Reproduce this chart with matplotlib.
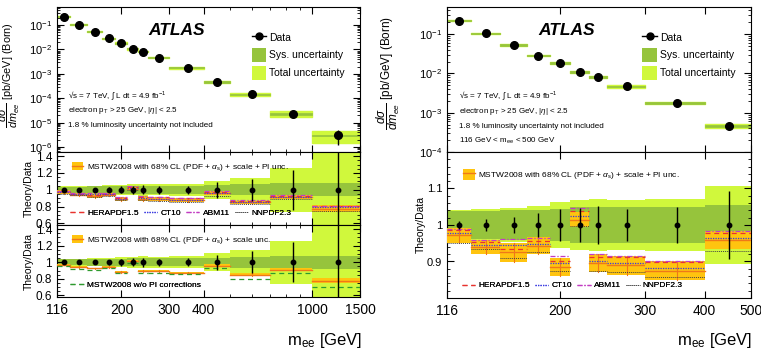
import numpy as np
import matplotlib
matplotlib.use("Agg")
import matplotlib.pyplot as plt
from matplotlib.patches import Patch
from matplotlib.lines import Line2D
from matplotlib.ticker import FixedLocator, NullFormatter, LogLocator, MultipleLocator, FixedFormatter

plt.rcParams['font.family'] = ['Liberation Sans', 'DejaVu Sans']
plt.rcParams['mathtext.fontset'] = 'custom'
plt.rcParams['mathtext.rm'] = 'Liberation Sans'
plt.rcParams['mathtext.it'] = 'Liberation Sans:italic'
plt.rcParams['mathtext.bf'] = 'Liberation Sans:bold'

# m_ee bin edges [GeV]
edges = [116, 130, 150, 170, 190, 210, 230, 250, 300, 400, 500, 700, 1000, 1500]
# measured cross section dsigma/dm [pb/GeV]
xsec = [0.221, 0.104, 0.0527, 0.0285, 0.0183, 0.0107, 0.00825, 0.00465, 0.00175,
        0.000465, 0.000145, 2.3e-5, 3.0e-6]
# relative uncertainties
stat = [0.012, 0.017, 0.021, 0.032, 0.044, 0.047, 0.052, 0.045, 0.05, 0.093, 0.13, 0.24, 0.62]
sys_unc = [0.038, 0.038, 0.04, 0.042, 0.045, 0.048, 0.048, 0.05, 0.05, 0.055, 0.065, 0.075, 0.08]
tot_unc = [0.041, 0.043, 0.046, 0.052, 0.062, 0.068, 0.072, 0.068, 0.072, 0.108, 0.145, 0.26, 0.5]

# theory / data
mstw = [0.972, 0.94, 0.925, 0.943, 0.885, 1.015, 0.895, 0.89, 0.875, 0.958, 0.85, 0.912, 0.775]
mstw_hw = [0.02, 0.02, 0.027, 0.023, 0.024, 0.02, 0.025, 0.026, 0.025, 0.025, 0.02, 0.027, 0.045]
mstw_scale_hw = [0.01, 0.01, 0.01, 0.01, 0.01, 0.012, 0.012, 0.012, 0.012, 0.015, 0.015, 0.02, 0.03]
mstw_nopi = [0.955, 0.92, 0.905, 0.925, 0.868, 0.99, 0.875, 0.87, 0.855, 0.935, 0.80, 0.875, 0.70]
herapdf = [0.985, 0.953, 0.935, 0.955, 0.902, 1.037, 0.913, 0.911, 0.899, 0.979, 0.87, 0.93, 0.805]
ct10 = [0.978, 0.945, 0.945, 0.948, 0.895, 1.025, 0.9, 0.895, 0.882, 0.965, 0.855, 0.915, 0.79]
abm11 = [0.99, 0.96, 0.962, 0.965, 0.914, 1.047, 0.92, 0.915, 0.901, 0.983, 0.875, 0.935, 0.81]
nnpdf = [0.952, 0.933, 0.909, 0.925, 0.874, 0.998, 0.875, 0.87, 0.857, 0.929, 0.83, 0.893, 0.748]

LIGHT = '#d0f83c'
DARK = '#96c43c'
ORANGE = '#ffc40f'
ORANGE_LINE = '#f07818'

pdf_styles = [
    (herapdf, 'HERAPDF1.5', dict(color='#e8332e', ls=(0, (4, 3)), lw=0.9)),
    (ct10, 'CT10', dict(color='#3a3ae0', ls=(0, (1, 1)), lw=0.9)),
    (abm11, 'ABM11', dict(color='#c23cc2', ls=(0, (4, 1.5, 1, 1.5)), lw=0.9)),
    (nnpdf, 'NNPDF2.3', dict(color='#444444', ls=(0, (1, 1)), lw=0.7)),
]


def style_ticks(ax):
    ax.tick_params(which='both', direction='in', top=True, right=True)
    ax.tick_params(which='major', length=5, width=0.8)
    ax.tick_params(which='minor', length=2.5, width=0.6)


def set_xaxis(ax, xmax, majors, labels, minors, show_labels):
    ax.set_xscale('log')
    ax.set_xlim(116, xmax)
    ax.xaxis.set_major_locator(FixedLocator(majors))
    ax.xaxis.set_minor_locator(FixedLocator(minors))
    ax.xaxis.set_minor_formatter(NullFormatter())
    if show_labels:
        ax.xaxis.set_major_formatter(FixedFormatter(labels))
        ax.tick_params(axis='x', labelsize=10, pad=4)
    else:
        ax.xaxis.set_major_formatter(NullFormatter())


def draw_main(ax, nb):
    for i in range(nb):
        lo, hi, v = edges[i], edges[i + 1], xsec[i]
        ax.fill_between([lo, hi], v * (1 - tot_unc[i]), v * (1 + tot_unc[i]),
                        color=LIGHT, lw=1.0, edgecolor=LIGHT)
        ax.fill_between([lo, hi], v * (1 - sys_unc[i]), v * (1 + sys_unc[i]),
                        color=DARK, lw=0.5, edgecolor=DARK)
    cen = [(edges[i] + edges[i + 1]) / 2 for i in range(nb)]
    vals = np.array(xsec[:nb])
    err = np.array(stat[:nb]) * vals
    ax.errorbar(cen, vals, yerr=[np.minimum(err, 0.6 * vals), err], fmt='o', color='k',
                ms=5.5, elinewidth=1, capsize=0, zorder=5)
    ax.set_yscale('log')
    ax.yaxis.set_minor_locator(LogLocator(subs=np.arange(2, 10)))
    ax.yaxis.set_minor_formatter(NullFormatter())
    ax.tick_params(axis='y', labelsize=8)
    handles = [Line2D([], [], color='k', marker='o', ms=5, lw=1),
               Patch(facecolor=DARK), Patch(facecolor=LIGHT)]
    ax.legend(handles, ['Data', 'Sys. uncertainty', 'Total uncertainty'],
              loc='upper left', bbox_to_anchor=(0.625, 0.875), frameon=False,
              fontsize=7.5, handlelength=1.4, handleheight=1.7, labelspacing=0.35,
              handletextpad=0.3, borderpad=0)
    ax.text(0.3, 0.835, 'ATLAS', transform=ax.transAxes, fontsize=12.5,
            fontweight='bold', style='italic', va='center')


def draw_ratio(ax, nb, hw, lines):
    for i in range(nb):
        lo, hi = edges[i], edges[i + 1]
        ax.fill_between([lo, hi], 1 - tot_unc[i], 1 + tot_unc[i], color=LIGHT, lw=0)
        ax.fill_between([lo, hi], 1 - sys_unc[i], 1 + sys_unc[i], color=DARK, lw=0)
    for i in range(nb):
        lo, hi, m = edges[i], edges[i + 1], mstw[i]
        c = (lo + hi) / 2
        ax.fill_between([lo, hi], m - hw[i], m + hw[i], color=ORANGE, lw=0, zorder=3)
        ax.plot([lo, hi], [m, m], color=ORANGE_LINE, lw=1.0, zorder=3)
        ax.plot([c, c], [m - hw[i], m + hw[i]], color=ORANGE_LINE, lw=0.8, zorder=3)
        for vals, _, st in lines:
            ax.plot([lo, hi], [vals[i], vals[i]], zorder=4, **st)
    cen = [(edges[i] + edges[i + 1]) / 2 for i in range(nb)]
    ax.errorbar(cen, np.ones(nb), yerr=stat[:nb], fmt='o', color='k', ms=3.2,
                elinewidth=1, capsize=0, zorder=6)


def mstw_legend(ax, text, anchor, hh, fs=6):
    h = (Patch(facecolor=ORANGE), Line2D([], [], color=ORANGE_LINE, lw=1))
    leg = ax.legend([h], [text], loc='upper left', bbox_to_anchor=anchor, frameon=False,
                    fontsize=fs, handlelength=1.4, handleheight=hh, handletextpad=0.4,
                    borderpad=0)
    ax.add_artist(leg)


def pdf_legend(ax, anchor, lines, ncol):
    handles = [Line2D([], [], **st) for _, _, st in lines]
    labels = [lab for _, lab, _ in lines]
    leg = ax.legend(handles, labels, loc='lower left', bbox_to_anchor=anchor, frameon=False,
                    fontsize=6, ncol=ncol, handlelength=1.6, handletextpad=0.4,
                    columnspacing=0.6, borderpad=0)
    ax.add_artist(leg)


fig = plt.figure(figsize=(7.61, 3.6), dpi=100)
W, H = 761.0, 360.0


def add_ax(x0, x1, y0, y1):
    return fig.add_axes([x0 / W, 1 - y1 / H, (x1 - x0) / W, (y1 - y0) / H])


info = ['\u221As = 7 TeV, \u222B L dt = 4.9 fb$^{-1}$',
        r'electron p$_{\mathrm{T}}$ > 25 GeV, |$\eta$| < 2.5',
        '1.8 % luminosity uncertainty not included']
ylab_main = r'$\dfrac{d\sigma}{dm_{ee}}$ [pb/GeV] (Born)'

# ---------------- left figure ----------------
lmaj = [116, 200, 300, 400, 1000, 1500]
llab = ['116', '200', '300', '400', '1000', '1500']
lmin = [500, 600, 700, 800, 900]

axL = add_ax(57, 360, 7, 152)
draw_main(axL, 13)
axL.set_ylim(6.3e-7, 0.55)
set_xaxis(axL, 1500, lmaj, llab, lmin, False)
style_ticks(axL)
axL.set_ylabel(ylab_main, fontsize=7.8)
axL.yaxis.set_label_coords(-0.115, 0.53)
for k, t in enumerate(info):
    axL.text(0.035, 0.385 - k * 0.1, t, transform=axL.transAxes, fontsize=5.8, va='center')

axR1 = add_ax(57, 360, 152, 225)
draw_ratio(axR1, 13, mstw_hw, pdf_styles)
axR1.set_ylim(0.58, 1.45)
set_xaxis(axR1, 1500, lmaj, llab, lmin, False)
axR1.yaxis.set_major_locator(FixedLocator([0.6, 0.8, 1.0, 1.2, 1.4]))
axR1.yaxis.set_major_formatter(FixedFormatter(['0.6', '0.8', '1', '1.2', '1.4']))
axR1.yaxis.set_minor_locator(MultipleLocator(0.05))
axR1.tick_params(axis='y', labelsize=8.5)
style_ticks(axR1)
axR1.set_ylabel('Theory/Data', fontsize=7.5)
axR1.yaxis.set_label_coords(-0.076, 0.5)
mstw_legend(axR1, r'MSTW2008 with 68% CL (PDF + $\alpha_{\mathrm{s}}$) + scale + PI unc.',
            (0.035, 0.92), 1.0)
pdf_legend(axR1, (0.03, 0.05), pdf_styles, 4)

nopi = [(mstw_nopi, 'MSTW2008 w/o PI corrections',
         dict(color='#2e9a2e', ls=(0, (4, 3)), lw=0.9))]
axR2 = add_ax(57, 360, 225, 297)
draw_ratio(axR2, 13, mstw_scale_hw, nopi)
axR2.set_ylim(0.58, 1.45)
set_xaxis(axR2, 1500, lmaj, llab, lmin, True)
axR2.yaxis.set_major_locator(FixedLocator([0.6, 0.8, 1.0, 1.2, 1.4]))
axR2.yaxis.set_major_formatter(FixedFormatter(['0.6', '0.8', '1', '1.2', '1.4']))
axR2.yaxis.set_minor_locator(MultipleLocator(0.05))
axR2.tick_params(axis='y', labelsize=8.5)
style_ticks(axR2)
axR2.set_ylabel('Theory/Data', fontsize=7.5)
axR2.yaxis.set_label_coords(-0.076, 0.5)
mstw_legend(axR2, r'MSTW2008 with 68% CL (PDF + $\alpha_{\mathrm{s}}$) + scale unc.',
            (0.035, 0.92), 1.0)
pdf_legend(axR2, (0.03, 0.05), nopi, 1)

fig.text(362 / W, 1 - 340 / H, r'm$_{\mathrm{ee}}$ [GeV]', ha='right', va='center', fontsize=12)

# ---------------- right figure ----------------
rmaj = [116, 200, 300, 400, 500]
rlab = ['116', '200', '300', '400', '500']

axM = add_ax(447, 751, 7, 152)
draw_main(axM, 10)
axM.set_ylim(1e-4, 0.49)
set_xaxis(axM, 500, rmaj, rlab, [], False)
style_ticks(axM)
axM.set_ylabel(ylab_main, fontsize=8.5)
axM.yaxis.set_label_coords(-0.148, 0.545)
for k, t in enumerate(info + [r'116 GeV < m$_{\mathrm{ee}}$ < 500 GeV']):
    axM.text(0.04, 0.385 - k * 0.103, t, transform=axM.transAxes, fontsize=5.8, va='center')

axRR = add_ax(447, 751, 152, 298)
draw_ratio(axRR, 10, mstw_hw, pdf_styles)
axRR.set_ylim(0.8, 1.2)
set_xaxis(axRR, 500, rmaj, rlab, [], True)
axRR.yaxis.set_major_locator(FixedLocator([0.9, 1.0, 1.1]))
axRR.yaxis.set_major_formatter(FixedFormatter(['0.9', '1', '1.1']))
axRR.yaxis.set_minor_locator(MultipleLocator(0.02))
axRR.tick_params(axis='y', labelsize=8)
style_ticks(axRR)
axRR.set_ylabel('Theory/Data', fontsize=7.5)
axRR.yaxis.set_label_coords(-0.068, 0.5)
mstw_legend(axRR, r'MSTW2008 with 68% CL (PDF + $\alpha_{\mathrm{s}}$) + scale + PI unc.',
            (0.04, 0.91), 1.6)
pdf_legend(axRR, (0.035, 0.03), pdf_styles, 4)

fig.text(752 / W, 1 - 340 / H, r'm$_{\mathrm{ee}}$ [GeV]', ha='right', va='center', fontsize=12)

fig.savefig('out.png', dpi=100)
